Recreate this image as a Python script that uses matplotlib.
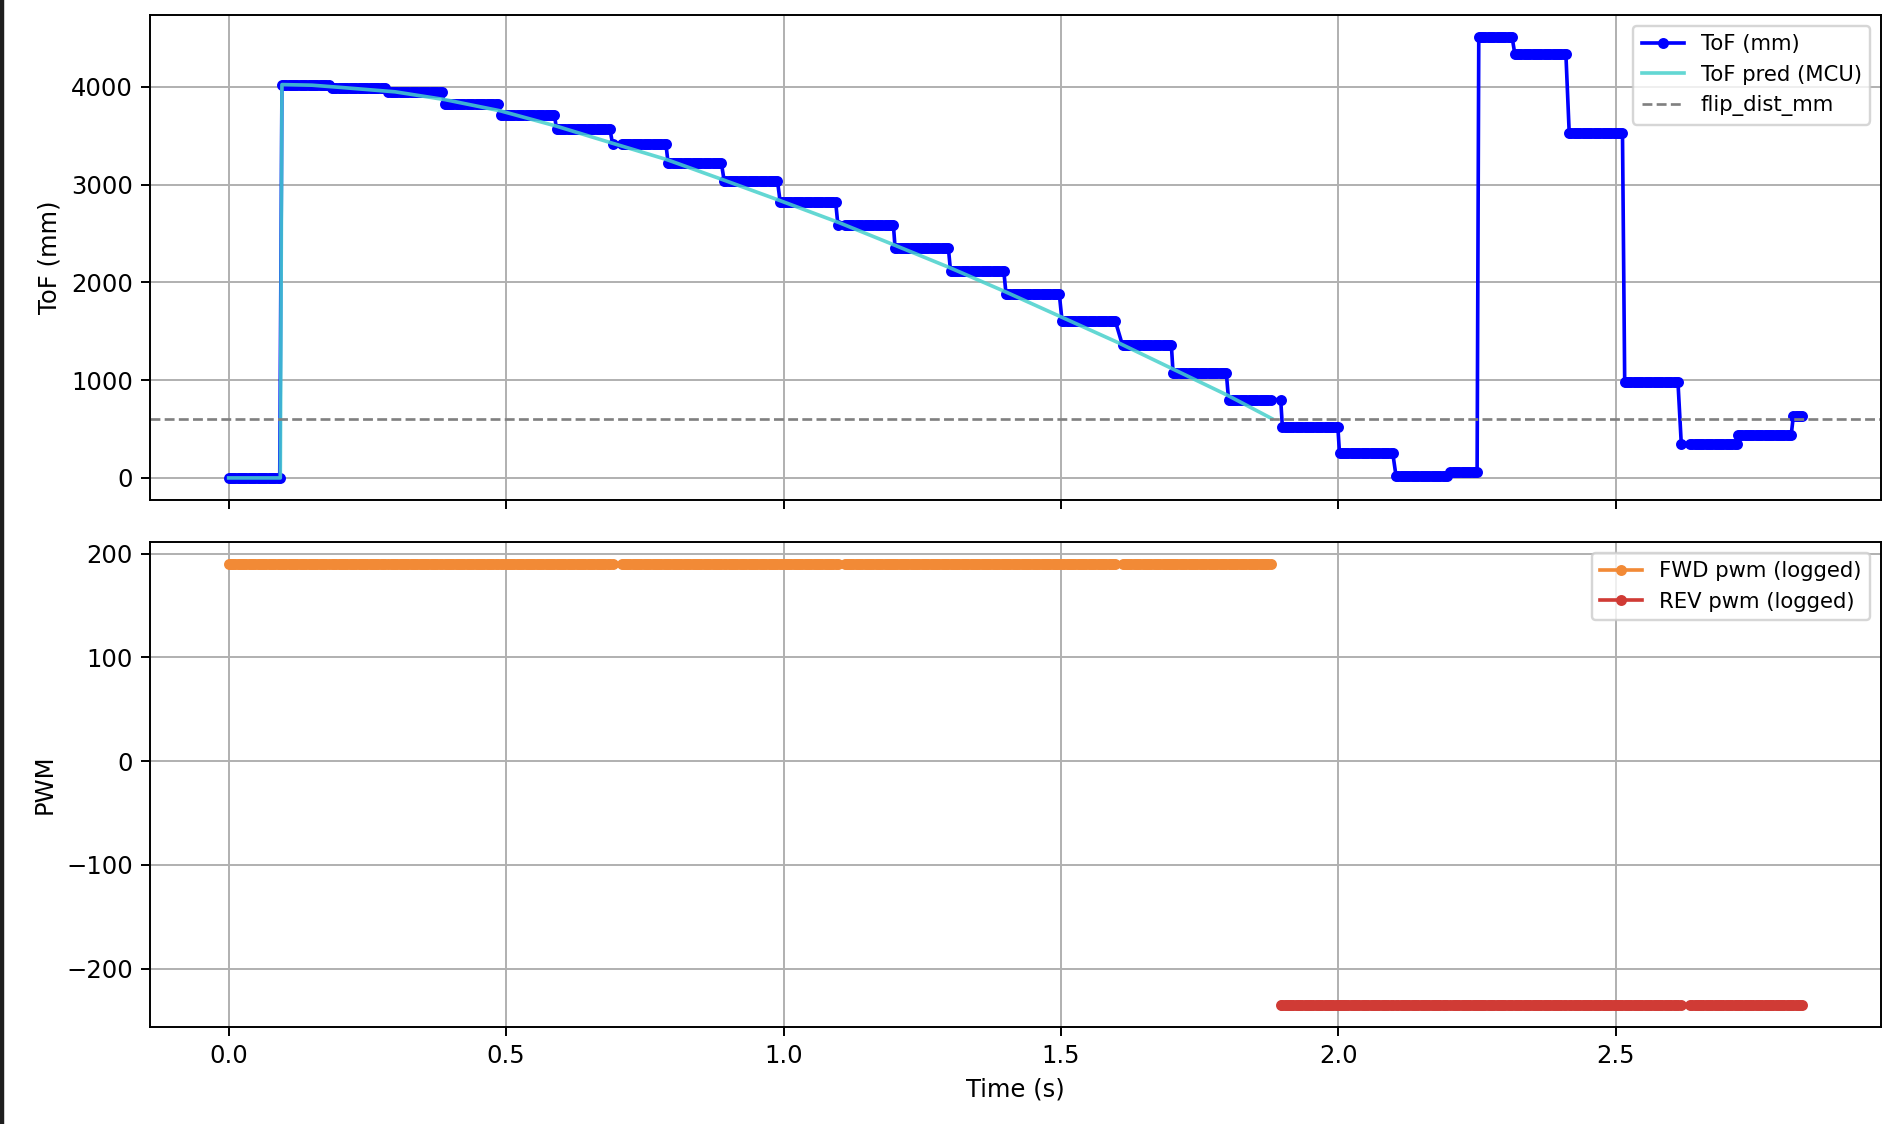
import numpy as np
import matplotlib
matplotlib.use("Agg")
from matplotlib import pyplot as plt
from matplotlib.patches import Rectangle

# ToF readings: each reading holds from t_start to t_end (s), value in mm
tof_t_start = [0.000, 0.096, 0.186, 0.288, 0.389, 0.491, 0.591, 0.692, 0.792, 0.893,
               0.994, 1.098, 1.201, 1.301, 1.401, 1.502, 1.603, 1.702, 1.802, 1.896,
               1.899, 2.002, 2.104, 2.202, 2.253, 2.318, 2.416, 2.516, 2.618, 2.720,
               2.820]
tof_t_end = [0.093, 0.182, 0.284, 0.385, 0.488, 0.588, 0.689, 0.789, 0.890, 0.991,
             1.096, 1.199, 1.298, 1.398, 1.500, 1.601, 1.700, 1.800, 1.878, 1.896,
             2.000, 2.100, 2.199, 2.250, 2.315, 2.412, 2.512, 2.614, 2.718, 2.817,
             2.836]
tof_mm = [0, 4024, 3990, 3950, 3830, 3710, 3570, 3415, 3220, 3040,
          2820, 2587, 2355, 2116, 1880, 1604, 1355, 1078, 802, 802,
          526, 252, 15, 65, 4511, 4337, 3530, 980, 345, 436,
          635]
log_dt = 0.004
log_gaps = [0.700, 1.104, 1.604, 2.626]  # dropped log samples

# MCU prediction
pred_t = [0.0, 0.093, 0.096, 0.15, 0.2, 0.3, 0.39, 0.49, 0.59, 0.69, 0.79, 0.89,
          0.99, 1.1, 1.2, 1.3, 1.4, 1.5, 1.6, 1.7, 1.8, 1.88]
pred_mm = [0, 0, 4024, 4018, 3996, 3950, 3870, 3755, 3600, 3427, 3256, 3052,
           2845, 2612, 2382, 2150, 1904, 1648, 1392, 1119, 846, 607]

flip_dist_mm = 600

fwd_pwm = 190
fwd_end_t = 1.879
rev_pwm = -235
rev_start_t = 1.89

# build log time base
t_parts, v_parts = [], []
for a, b, v in zip(tof_t_start, tof_t_end, tof_mm):
    ts = np.arange(a, b + 1e-9, log_dt)
    t_parts.append(ts)
    v_parts.append(np.full(len(ts), v, dtype=float))
t = np.concatenate(t_parts)
tof = np.concatenate(v_parts)
keep = np.ones(len(t), dtype=bool)
for g in log_gaps:
    keep &= np.abs(t - g) > 0.006
t = t[keep]
tof = tof[keep]

fwd = np.where(t <= fwd_end_t, fwd_pwm, np.nan)
rev = np.where(t >= rev_start_t, rev_pwm, np.nan)

dpi = 175
fig, (ax1, ax2) = plt.subplots(2, 1, sharex=True, figsize=(1894 / dpi, 1124 / dpi), dpi=dpi)
fig.subplots_adjust(left=0.0792, right=0.9931, top=0.9867, bottom=0.0863, hspace=0.0866)

ax1.plot(t, tof, color="b", marker=".", ms=7, lw=1.5, label="ToF (mm)")
ax1.plot(pred_t, pred_mm, color="mediumturquoise", alpha=0.85, lw=1.5, label="ToF pred (MCU)")
ax1.axhline(flip_dist_mm, color="gray", ls="--", lw=1.1, label="flip_dist_mm")
ax1.set_ylabel("ToF (mm)")
ax1.grid(True)
ax1.legend(loc="upper right", fontsize=8.7)

ax2.plot(t, fwd, color="#f28a36", marker=".", ms=7, lw=1.5, label="FWD pwm (logged)")
ax2.plot(t, rev, color="#d03b35", marker=".", ms=7, lw=1.5, label="REV pwm (logged)")
ax2.set_ylabel("PWM")
ax2.set_xlabel("Time (s)")
ax2.grid(True)
ax2.legend(loc="upper right", fontsize=8.7)

# screenshot edge
fig.patches.append(Rectangle((0, 0), 3 / 1894, 1, transform=fig.transFigure,
                             color="#1e1e1e", zorder=10))

fig.savefig("out.png", dpi=dpi)
